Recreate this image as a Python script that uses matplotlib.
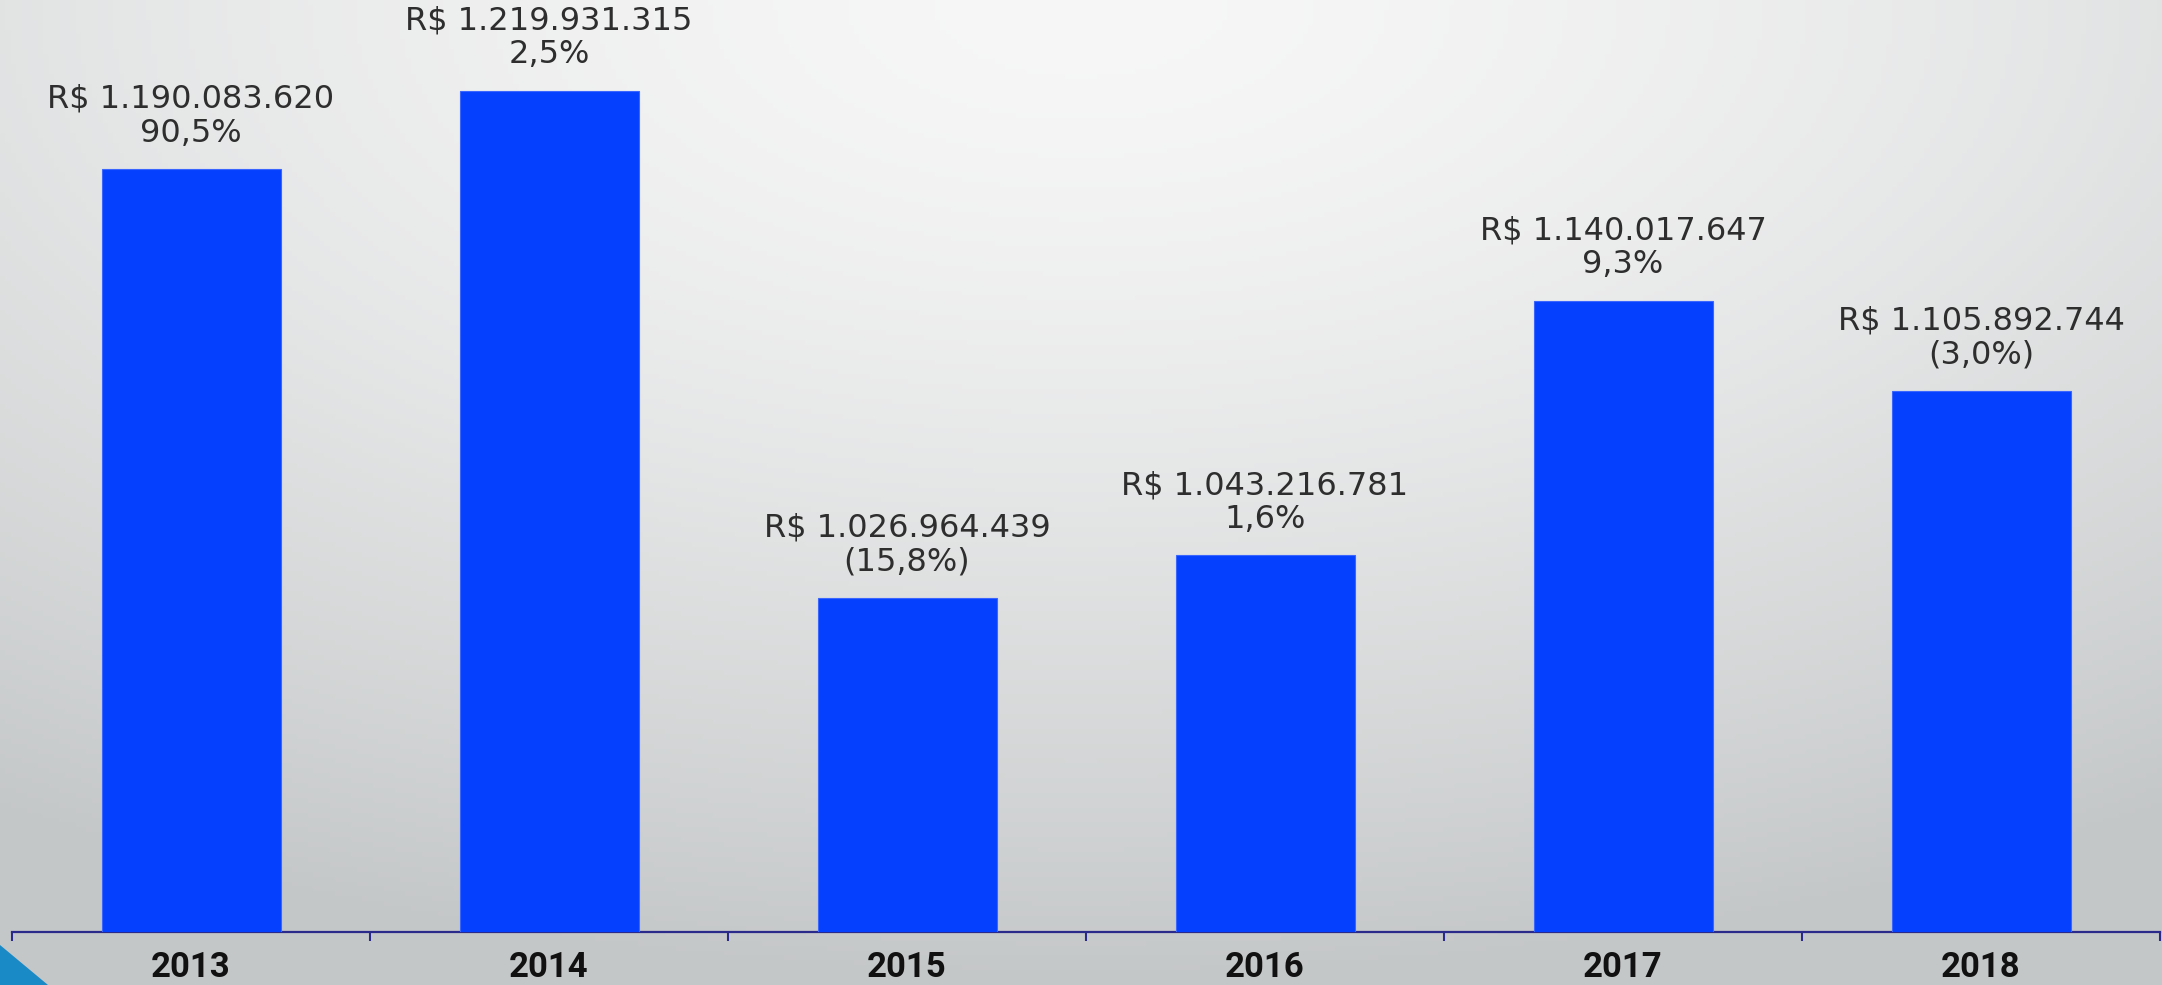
import numpy as np
import matplotlib
matplotlib.use("Agg")
import matplotlib.pyplot as plt
from matplotlib.patches import Polygon
from matplotlib.colors import to_rgb

# dados
anos = ["2013", "2014", "2015", "2016", "2017", "2018"]
valores = [1190083620, 1219931315, 1026964439, 1043216781, 1140017647, 1105892744]
valores_txt = ["R$ 1.190.083.620", "R$ 1.219.931.315", "R$ 1.026.964.439",
               "R$ 1.043.216.781", "R$ 1.140.017.647", "R$ 1.105.892.744"]
variacao_txt = ["90,5%", "2,5%", "(15,8%)", "1,6%", "9,3%", "(3,0%)"]

W, H = 2162, 985
fig = plt.figure(figsize=(W / 100, H / 100), dpi=100)

# fundo com gradiente (claro no topo, cinza embaixo)
bg = fig.add_axes([0, 0, 1, 1])
bg.set_axis_off()
xx, yy = np.meshgrid(np.linspace(0, 1, 400), np.linspace(0, 1, 200))
d = np.sqrt(((xx - 0.5) / 0.9) ** 2 + yy ** 2)
f = np.clip(d, 0, 1) ** 1.5
c_top = np.array(to_rgb("#f7f7f7"))
c_bot = np.array(to_rgb("#c4c7c8"))
img = c_top[None, None, :] * (1 - f[..., None]) + c_bot[None, None, :] * f[..., None]
bg.imshow(img, aspect="auto", extent=[0, 1, 1, 0])
bg.set_xlim(0, 1)
bg.set_ylim(1, 0)

# triangulo azul no canto
tri = Polygon([[0, 40], [0, 0], [48, 0]], closed=True, transform=None,
              facecolor="#1a8ac6", edgecolor="none", zorder=5)
fig.patches.append(tri)

left = 12 / W
right = 2160 / W
bottom = (H - 932) / H
ax = fig.add_axes([left, bottom, right - left, 1 - bottom])
ax.patch.set_alpha(0)

x = np.arange(len(anos))
bars = ax.bar(x, valores, width=0.5, color="#0540ff", edgecolor="#3a66ff",
              linewidth=0.8, zorder=3)
ax.set_xlim(-0.5, len(anos) - 0.5)
ax.set_ylim(900e6, 900e6 + 932 / 2.63 * 1e6)

for xi, v, t1, t2 in zip(x, valores, valores_txt, variacao_txt):
    ax.annotate(t1 + "\n" + t2, (xi, v), xytext=(0, 38), textcoords="offset points",
                ha="center", va="center", fontsize=23, color="#2e2e2e",
                family="DejaVu Sans", linespacing=1.12)

for s in ["top", "left", "right"]:
    ax.spines[s].set_visible(False)
ax.spines["bottom"].set_color("#2a2a8a")
ax.spines["bottom"].set_linewidth(1.6)
ax.set_yticks([])

ax.set_xticks(x)
ax.set_xticklabels(anos, fontsize=25, fontweight="bold", family="Roboto", color="#111111")
ax.tick_params(axis="x", which="major", length=0, pad=14)
ax.set_xticks(np.arange(-0.5, len(anos)), minor=True)
ax.tick_params(axis="x", which="minor", length=6.5, width=1.5, color="#2a2a8a",
               direction="out")

fig.savefig("out.png", dpi=100)
